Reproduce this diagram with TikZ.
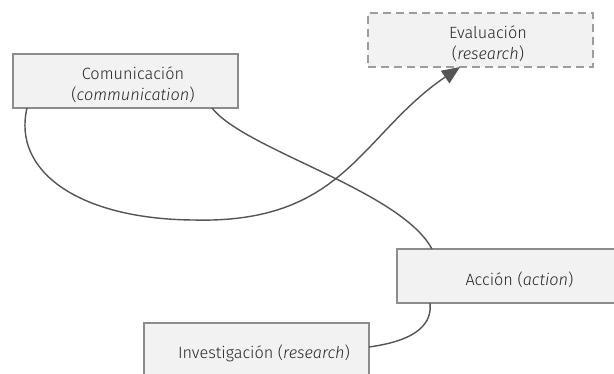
\documentclass[tikz,border=0pt]{standalone}
\usepackage{fontspec}
\setmainfont{Fira Sans Light}[ItalicFont={Fira Sans Light Italic}]
\usetikzlibrary{arrows.meta}
\definecolor{boxfill}{HTML}{F2F2F2}
\definecolor{boxline}{HTML}{8C8C8C}
\definecolor{linkcol}{HTML}{555555}
\definecolor{textcol}{HTML}{262626}
\tikzset{
  stagebox/.style={draw=boxline, fill=boxfill, line width=1.4pt, minimum width=225pt,
    minimum height=54pt, inner sep=0pt},
  plannedbox/.style={stagebox, draw=boxline!85, dash pattern=on 8pt off 5pt},
  stagetext/.style={align=center, inner sep=0pt, text=textcol,
    font=\fontsize{16.3}{21}\selectfont},
  link/.style={draw=linkcol, line width=1.4pt},
  arrowlink/.style={link, -{Triangle[length=18pt, width=15pt]}}
}
\begin{document}
\begin{tikzpicture}[x=1pt, y=-1pt]
\clip (0,0) rectangle (614,374);
\fill[white] (0,0) rectangle (614,374);
% stage boxes
\node[stagebox] (com) at (125.5,81) {};
\node[plannedbox] (eval) at (480.5,40) {};
\node[stagebox, minimum width=230pt] (acc) at (512,276) {};
\node[stagebox] (inv) at (256.5,350) {};
% their captions, set slightly right of and below each box centre
\node[stagetext] (comtext) at ([xshift=7.5pt, yshift=-3.5pt]com.center) {Comunicación\\(\textit{communication})};
\node[stagetext] (evaltext) at ([xshift=7.5pt, yshift=-3.5pt]eval.center) {Evaluación\\(\textit{research})};
\node[stagetext] (acctext) at ([xshift=7.5pt, yshift=-3.5pt]acc.center) {Acción (\textit{action})};
\node[stagetext] (invtext) at ([xshift=7.5pt, yshift=-3.5pt]inv.center) {Investigación (\textit{research})};
% connector end points on the box borders
\coordinate (c1) at (27,108);
\coordinate (c2) at (212,108);
\coordinate (low) at (193,220);
\coordinate (e1) at (460,67);
\coordinate (a1) at (432,249);
\coordinate (a2) at (430,303);
\coordinate (i1) at (369,347);
\draw[arrowlink] (c1) .. controls (12,172) and (80,219) .. (low)
                      .. controls (345,224) and (360,135) .. (e1);
\draw[link] (c2) .. controls (245,150) and (400,190) .. (a1);
\draw[link] (i1) .. controls (420,340) and (432,322) .. (a2);
\end{tikzpicture}
\end{document}
